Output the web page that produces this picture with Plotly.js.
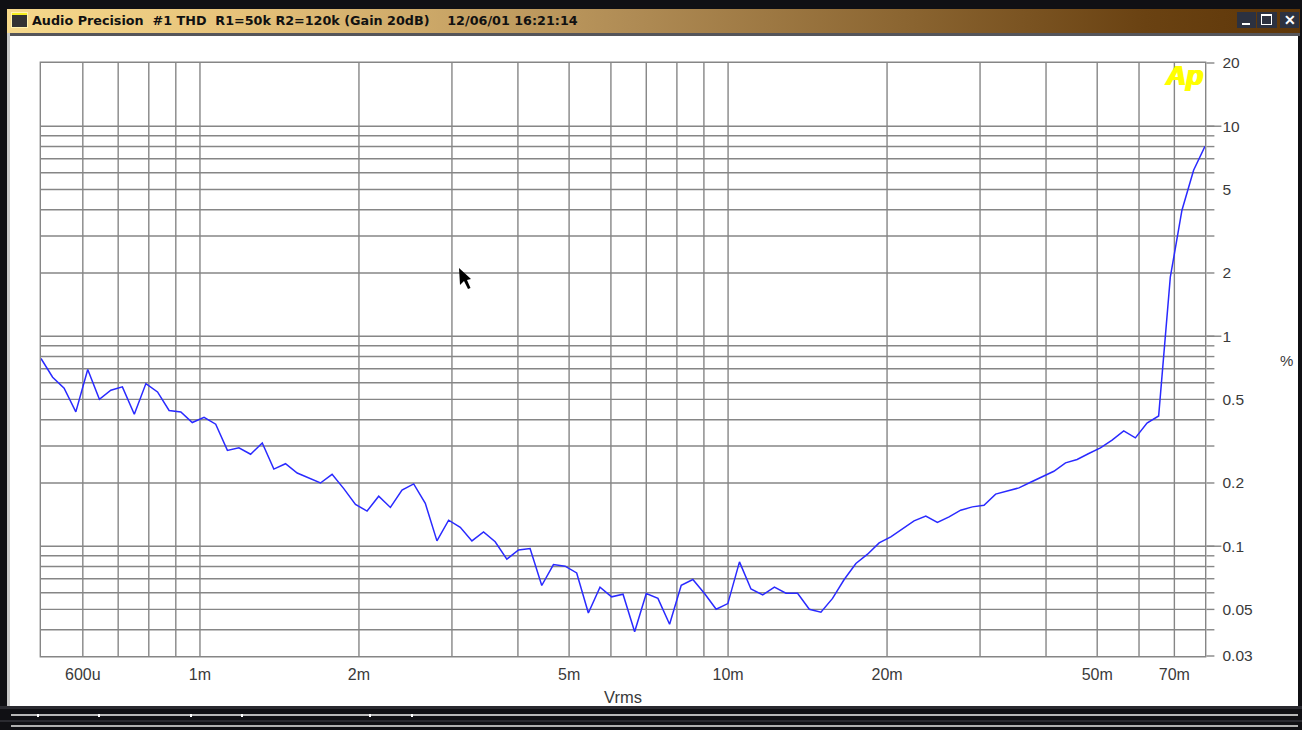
<!DOCTYPE html>
<html>
<head>
<meta charset="utf-8">
<script src="https://cdn.plot.ly/plotly-3.0.1.min.js"></script>
<style>
html,body{margin:0;padding:0;background:#101014;overflow:hidden;width:1302px;height:730px}
.c{position:absolute}
#chart{position:absolute;left:0;top:0;width:1302px;height:730px}
#chart .crisp{shape-rendering:auto !important}
</style>
</head>
<body>
<div class="c" style="left:7px;top:9px;width:1293px;height:24px;background:linear-gradient(90deg,#f6d98c 0%,#e6c27a 18%,#b08c55 48%,#8a6430 70%,#6a4212 88%,#5e3608 100%)"></div>
<div class="c" style="left:7px;top:33px;width:1293px;height:3px;background:#55555a"></div>
<div class="c" style="left:7px;top:33px;width:3px;height:673px;background:#c8c8c8"></div>
<div class="c" style="left:10px;top:36px;width:1288px;height:670px;background:#fff"></div>
<div class="c" style="left:11px;top:12px;width:17px;height:16px;background:#fff3b0;box-sizing:border-box;padding:1px"><div style="width:15px;height:14px;background:#333;border-top:2px solid #f4ee20;box-sizing:border-box"></div></div>
<div class="c" style="left:1237px;top:12px;width:19px;height:16px;background:#2c3140"><div class="c" style="left:5px;top:11px;width:8px;height:2px;background:#fff"></div></div>
<div class="c" style="left:1257px;top:12px;width:20px;height:16px;background:#2c3140"><div class="c" style="left:4px;top:2px;width:9px;height:8px;border:1px solid #fff;border-top-width:2px"></div></div>
<div class="c" style="left:1280px;top:12px;width:19px;height:16px;background:#2c3140;color:#fff;font:bold 14px/16px 'Liberation Sans';text-align:center">✕</div>
<div class="c" style="left:0;top:706px;width:1302px;height:3px;background:#2a2a30"></div>
<div class="c" style="left:11px;top:714px;width:1287px;height:2px;background:#b8b8b8"></div>
<div class="c" style="left:0;top:720px;width:1302px;height:2px;background:#2a2a30"></div>
<div class="c" style="left:11px;top:725px;width:1287px;height:2px;background:#b0b0b0"></div>
<div class="c" style="left:37px;top:714px;width:2px;height:3px;background:#fff"></div>
<div class="c" style="left:98px;top:714px;width:2px;height:3px;background:#fff"></div>
<div class="c" style="left:190px;top:714px;width:2px;height:3px;background:#fff"></div>
<div class="c" style="left:241px;top:714px;width:2px;height:3px;background:#fff"></div>
<div class="c" style="left:369px;top:714px;width:2px;height:3px;background:#fff"></div>
<div class="c" style="left:411px;top:714px;width:2px;height:3px;background:#fff"></div>
<div id="chart"></div>
<svg class="c" style="left:0;top:0;pointer-events:none" width="1302" height="730"><path d="M459 268 L460 285 L464 281 L468 289 L470.5 288 L467 280 L471 279 Z" fill="#000"/></svg>
<script>
const windowTitle = "Audio Precision\u00a0 #1 THD\u00a0 R1=50k R2=120k (Gain 20dB)\u00a0\u00a0\u00a0 12/06/01 16:21:14";
const seriesName = "THD";
const xAxisTitle = "Vrms";
const yAxisUnit = "%";
const logoText = "Ap";

// Vrms in millivolts
const vrmsMilli = [
  0.500,0.526,0.553,0.582,0.613,0.645,0.678,0.713,0.751,0.790,
  0.831,0.874,0.920,0.967,1.018,1.071,1.127,1.185,1.247,1.312,
  1.380,1.452,1.528,1.607,1.691,1.779,1.872,1.970,2.072,2.180,
  2.294,2.413,2.539,2.671,2.810,2.957,3.111,3.273,3.443,3.622,
  3.811,4.010,4.218,4.438,4.670,4.913,5.168,5.438,5.721,6.019,
  6.325,6.654,7.000,7.365,7.749,8.153,8.577,9.024,9.494,9.989,
  10.51,11.05,11.63,12.24,12.87,13.54,14.25,14.99,15.77,16.59,
  17.46,18.37,19.32,20.33,21.39,22.50,23.68,24.91,26.21,27.57,
  29.01,30.52,32.11,33.78,35.54,37.39,39.34,41.39,43.55,45.81,
  48.20,50.71,53.35,56.13,59.05,62.13,65.36,68.77,72.35,76.12,
  80.00
];
// THD in percent
const thdPercent = [
  0.783,0.638,0.566,0.436,0.694,0.501,0.553,0.574,0.425,0.595,
  0.543,0.443,0.436,0.388,0.411,0.381,0.286,0.294,0.274,0.310,
  0.233,0.247,0.223,0.211,0.200,0.220,0.188,0.158,0.147,0.173,
  0.153,0.185,0.198,0.160,0.106,0.133,0.123,0.106,0.117,0.105,
  0.0867,0.0960,0.0975,0.0650,0.0818,0.0803,0.0746,0.0481,0.0638,0.0574,
  0.0591,0.0391,0.0595,0.0564,0.0425,0.0652,0.0694,0.0595,0.0501,0.0533,
  0.0842,0.0626,0.0586,0.0638,0.0597,0.0597,0.0501,0.0485,0.0564,0.0694,
  0.0827,0.0916,0.1037,0.1108,0.1214,0.1320,0.139,0.1297,0.1379,0.1484,
  0.1539,0.1568,0.177,0.183,0.1895,0.2017,0.2138,0.2275,0.2493,0.2587,
  0.2763,0.294,0.3197,0.354,0.328,0.386,0.417,1.91,3.98,6.17,
  8.03
];

const xGridValues = [0.6,0.7,0.8,0.9,1,2,3,4,5,6,7,8,9,10,20,30,40,50,60,70,80];
const xGridLabels = ["600u","","","","1m","2m","","","5m","","","","","10m","20m","","","50m","","70m",""];
const yGridValues = [20,10,9,8,7,6,5,4,3,2,1,0.9,0.8,0.7,0.6,0.5,0.4,0.3,0.2,0.1,0.09,0.08,0.07,0.06,0.05,0.04,0.03];
const yGridLabels = ["20","10","","","","","5","","","2","1","","","","","0.5","","","0.2","0.1","","","","","0.05","","0.03"];
const yLongTicks = [10,1,0.1];

const gridColor = "#868686";
const textColor = "#3a3a3a";
const fontFamily = "'Liberation Sans', Arial, sans-serif";

const trace = {
  type: "scatter", mode: "lines", name: seriesName,
  x: vrmsMilli, y: thdPercent,
  line: {color: "#2a2aff", width: 1.5, shape: "linear"},
  hoverinfo: "x+y"
};

const layout = {
  width: 1302, height: 730,
  margin: {l: 41, r: 97, t: 63, b: 74, pad: 0},
  paper_bgcolor: "rgba(0,0,0,0)",
  plot_bgcolor: "rgba(0,0,0,0)",
  showlegend: false,
  font: {family: fontFamily, color: textColor, size: 15},
  title: {
    text: windowTitle,
    font: {family: "'DejaVu Sans', sans-serif", size: 12.75, color: "#111", weight: 700},
    x: 32/1302, xref: "container", xanchor: "left",
    y: 1-20.5/730, yref: "container", yanchor: "middle"
  },
  xaxis: {
    type: "log",
    range: [Math.log10(0.5), Math.log10(80)],
    tickmode: "array", tickvals: xGridValues, ticktext: xGridLabels,
    showgrid: true, gridcolor: gridColor, gridwidth: 1.4,
    ticks: "", ticklabelstandoff: 3,
    tickangle: 0,
    showline: true, linecolor: gridColor, linewidth: 1.4, mirror: true,
    zeroline: false,
    tickfont: {size: 16, color: textColor},
    title: {text: xAxisTitle, font: {size: 16.5, color: textColor}, standoff: 10}
  },
  yaxis: {
    type: "log", side: "right",
    range: [Math.log10(0.03), Math.log10(20)],
    tickmode: "array", tickvals: yGridValues, ticktext: yGridLabels,
    showgrid: true, gridcolor: gridColor, gridwidth: 1.4,
    ticks: "outside", ticklen: 8, tickwidth: 1.4, tickcolor: gridColor,
    ticklabelstandoff: 5,
    minor: {tickmode: "array", tickvals: yLongTicks, ticks: "outside", ticklen: 15, tickwidth: 1.4, tickcolor: gridColor, showgrid: false},
    showline: true, linecolor: gridColor, linewidth: 1.4, mirror: true,
    zeroline: false,
    tickfont: {size: 15.5, color: textColor}
  },
  annotations: [
    {text: yAxisUnit, xref: "paper", yref: "paper", x: (1286-41)/1164, y: (656-360)/593, xanchor: "center", yanchor: "middle", showarrow: false, font: {size: 15, color: textColor}},
    {text: "<b><i>" + logoText + "</i></b>", xref: "paper", yref: "paper", x: (1184-41)/1164, y: (656-75.5)/593, xanchor: "center", yanchor: "middle", showarrow: false, font: {size: 28, color: "#ffff00", family: fontFamily, shadow: "1px 0 0 #ffff00, -1px 0 0 #ffff00"}}
  ]
};

Plotly.newPlot("chart", [trace], layout, {displayModeBar: false, staticPlot: true});
</script>
</body>
</html>
